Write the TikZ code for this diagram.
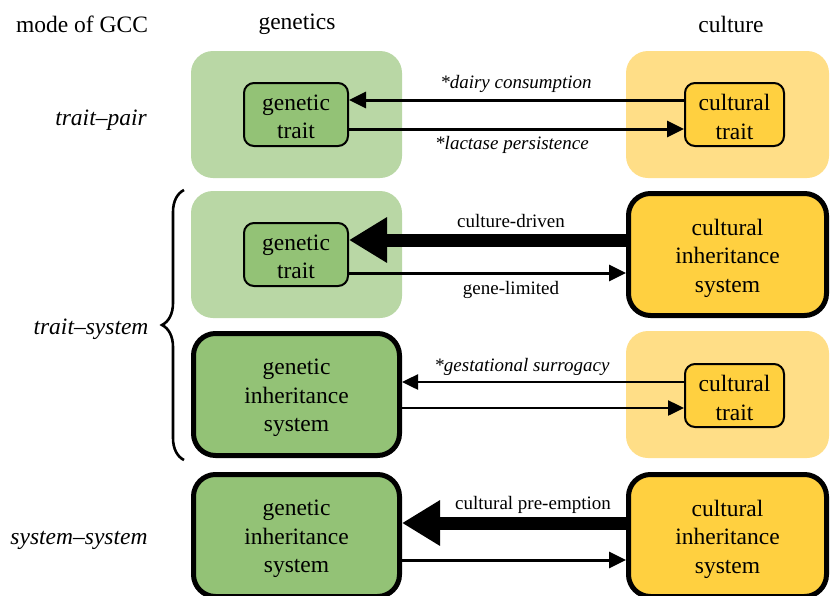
\documentclass[tikz,border=0pt]{standalone}
\usepackage{fontspec}
\setmainfont{Liberation Serif}
\usetikzlibrary{arrows.meta,calc,decorations.pathreplacing}
\definecolor{lgreen}{HTML}{B9D7A5}
\definecolor{dgreen}{HTML}{93C276}
\definecolor{lyellow}{HTML}{FFDE87}
\definecolor{gold}{HTML}{FFD040}
\begin{document}
\begin{tikzpicture}[x=1pt,y=-1pt,
  bigtext/.style={font=\fontsize{23.5}{28.5}\selectfont, align=center, inner sep=0},
  lbl/.style={font=\fontsize{19}{22}\selectfont, inner sep=0},
  bgbox/.style={rounded corners=22pt, minimum width=211pt, minimum height=127pt, inner sep=0},
  sysbox/.style={draw=black, line width=5pt, rounded corners=22pt, minimum height=122pt, inner sep=0},
  traitbox/.style={draw=black, line width=2pt, rounded corners=10pt, minimum width=104pt, minimum height=63pt, inner sep=0},
  thinarrow/.style={line width=3pt, -{Triangle[length=17pt,width=16pt]}},
  thickarrow/.style={line width=13pt, -{Triangle[length=38pt,width=43pt]}},
  hd/.style={font=\fontsize{23.5}{28.5}\selectfont, inner sep=0}
]
\useasboundingbox (0,0) rectangle (830,595);
\clip (0,0) rectangle (830,595);

% headings
\node[hd] (hmode) at (82,24.5) {mode of GCC};
\node[hd] (hgen) at (297,24.5) {genetics};
\node[hd] (hcul) at (731,24.5) {culture};

\node[hd] (mpair) at (101,120) {\itshape trait–pair};
\node[hd] (msys) at (91,329) {\itshape trait–system};
\node[hd] (mss) at (79,540.5) {\itshape system–system};

% brace
\draw[line width=2.6pt, decorate, decoration={brace, amplitude=22pt}] (184,460) -- (184,190);

% row 1
\node[bgbox, fill=lgreen] (bg1) at (296.5,114.5) {};
\node[bgbox, fill=lyellow, minimum width=203pt] (by1) at (727.5,114.5) {};
\node[traitbox, fill=dgreen] (gt1) at (296,114.5) {};
\node[bigtext] (gt1t) at ($(gt1.center)+(0,2.5)$) {genetic\\trait};
\node[traitbox, fill=gold, minimum width=99pt] (ct1) at (734.5,114.5) {};
\node[bigtext] (ct1t) at ($(ct1.center)+(0,2.5)$) {cultural\\trait};
\draw[thinarrow] ($(ct1.west)+(0,-14.5)$) -- ($(gt1.east)+(0,-14.5)$);
\draw[thinarrow] ($(gt1.east)+(0,14.5)$) -- ($(ct1.west)+(0,14.5)$);
\node[lbl] (l1a) at (516,84) {\itshape *dairy consumption};
\node[lbl] (l1b) at (512,145) {\itshape *lactase persistence};

% row 2
\node[bgbox, fill=lgreen] (bg2) at (296.5,254.5) {};
\node[traitbox, fill=dgreen] (gt2) at (296,254.5) {};
\node[bigtext] (gt2t) at ($(gt2.center)+(0,2.5)$) {genetic\\trait};
\node[sysbox, fill=gold, minimum width=198pt] (cs2) at (727.5,254.5) {};
\node[bigtext] (cs2t) at ($(cs2.center)+(0,3.5)$) {cultural\\inheritance\\system};
\draw[thickarrow] ($(cs2.west)+(0,-14.5)$) -- ($(gt2.east)+(0,-14.5)$);
\draw[thinarrow] ($(gt2.east)+(0,18.5)$) -- ($(cs2.west)+(0,18.5)$);
\node[lbl] (l2a) at (511,221) {culture-driven};
\node[lbl] (l2b) at (511,290) {gene-limited};

% row 3
\node[sysbox, fill=dgreen, minimum width=206pt] (gs3) at (296.5,394.5) {};
\node[bigtext] (gs3t) at ($(gs3.center)+(0,3.5)$) {genetic\\inheritance\\system};
\node[bgbox, fill=lyellow, minimum width=203pt] (by3) at (727.5,394.5) {};
\node[traitbox, fill=gold, minimum width=99pt] (ct3) at (734.5,395.5) {};
\node[bigtext] (ct3t) at ($(ct3.center)+(0,2.5)$) {cultural\\trait};
\draw[line width=2.5pt, -{Triangle[length=16pt,width=15pt]}] ($(ct3.west)+(0,-13.5)$) -- ($(gs3.east |- ct3.west)+(0,-13.5)$);
\draw[line width=2.5pt, -{Triangle[length=16pt,width=15pt]}] ($(gs3.east |- ct3.west)+(0,12.5)$) -- ($(ct3.west)+(0,12.5)$);
\node[lbl] (l3a) at (522,367) {\itshape *gestational surrogacy};

% row 4
\node[sysbox, fill=dgreen, minimum width=206pt] (gs4) at (296.5,535.5) {};
\node[bigtext] (gs4t) at ($(gs4.center)+(0,3.5)$) {genetic\\inheritance\\system};
\node[sysbox, fill=gold, minimum width=198pt] (cs4) at (727.5,535.5) {};
\node[bigtext] (cs4t) at ($(cs4.center)+(0,3.5)$) {cultural\\inheritance\\system};
\draw[thickarrow] ($(cs4.west)+(0,-12.5)$) -- ($(gs4.east)+(0,-12.5)$);
\draw[thinarrow] ($(gs4.east)+(0,24.5)$) -- ($(cs4.west)+(0,24.5)$);
\node[lbl] (l4a) at (533,505) {cultural pre-emption};
\end{tikzpicture}
\end{document}
